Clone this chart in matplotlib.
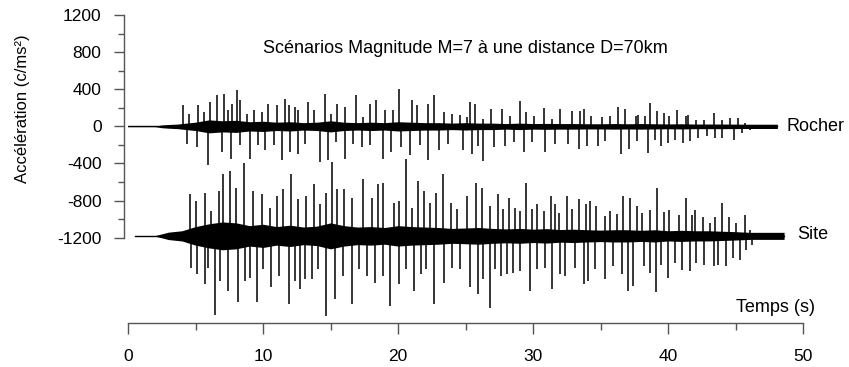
#!/usr/bin/env python3
# Accelerograms "Rocher" / "Site" for the M=7, D=70km scenario.
# Peaks, drawn as spikes over a dense core band.
import numpy as np
import matplotlib
matplotlib.use("Agg")
import matplotlib.pyplot as plt
from matplotlib.ticker import MultipleLocator, FixedLocator

plt.rcParams["font.family"] = ["Liberation Sans", "DejaVu Sans"]
plt.rcParams["axes.unicode_minus"] = False

# vertical offsets of the two traces (c/ms2)
rocher_offset = 0
site_offset = -1180

# --- Rocher: positive peaks (time s, amplitude)
rocher_up_t = [4.1, 4.5, 5.2, 5.6, 6.07, 6.57, 7.13, 7.4, 7.68, 8.1, 8.3, 8.8, 9.36, 9.9, 10.4,
               11.0, 11.6, 11.9, 12.4, 12.6, 13.3, 13.8, 14.6, 15.0, 15.5, 16.1, 16.9, 17.4,
               17.9, 18.4, 19.0, 19.6, 20.1, 21.0, 21.4, 22.2, 22.7, 23.4, 24.0, 24.6, 25.1,
               25.3, 25.7, 26.3, 26.9, 27.7, 28.3, 29.0, 29.5, 30.1, 30.8, 31.4, 32.0, 32.9,
               33.5, 33.8, 34.3, 35.1, 35.7, 36.3, 36.8, 37.6, 37.8, 38.3, 38.7, 39.2, 39.7,
               40.1, 40.7, 41.3, 41.5, 42.1, 42.7, 43.4, 44.0, 44.6, 45.2, 45.7]
rocher_up_a = [226, 130, 226, 150, 262, 334, 345, 180, 244, 388, 280, 137, 172, 154, 244,
               226, 298, 226, 208, 172, 262, 172, 352, 137, 244, 208, 334, 101,
               244, 280, 172, 172, 406, 280, 226, 244, 334, 154, 137, 119, 101,
               258, 240, 79, 187, 187, 115, 276, 151, 115, 194, 79, 187, 169,
               169, 187, 115, 97, 115, 205, 187, 115, 126, 108, 251, 162, 144,
               108, 180, 108, 126, 72, 72, 144, 72, 90, 90, 36]
# --- Rocher: negative peaks
rocher_dn_t = [4.35, 5.09, 5.95, 6.94, 7.63, 8.3, 9.04, 9.65, 10.15, 10.8, 11.4, 12.0, 12.6,
               13.1, 14.2, 14.8, 15.4, 16.1, 16.7, 17.3, 17.9, 18.9, 19.5, 20.2, 20.9, 21.6,
               22.2, 23.0, 23.7, 24.8, 25.5, 25.9, 26.3, 27.1, 27.9, 28.6, 29.3, 29.9, 30.9,
               31.6, 32.6, 33.4, 34.0, 34.8, 35.3, 36.5, 37.1, 37.7, 38.5, 39.0, 39.5, 40.0,
               40.5, 41.1, 41.6, 42.2, 42.9, 43.5, 44.0, 44.9, 45.5, 46.1]
rocher_dn_a = [-187, -223, -420, -277, -348, -205, -348, -205, -259, -205, -366, -277, -294,
               -187, -384, -366, -169, -348, -187, -223, -205, -348, -277, -223, -312, -205,
               -366, -259, -187, -259, -298, -208, -370, -226, -208, -172, -280, -172, -280,
               -190, -190, -244, -208, -208, -154, -298, -244, -154, -287, -144, -215, -180,
               -144, -180, -162, -126, -108, -126, -126, -144, -72, -36]

# --- Site: positive peaks
site_up_t = [4.6, 5.0, 5.7, 6.15, 6.77, 7.06, 7.56, 8.0, 8.6, 9.23, 9.9, 10.5, 11.06, 11.5,
             12.05, 12.6, 13.2, 13.8, 14.2, 14.7, 15.1, 15.5, 16.0, 16.6, 17.4, 18.1, 18.5,
             18.9, 19.7, 20.1, 20.6, 21.0, 21.5, 21.9, 22.4, 22.8, 23.3, 23.9, 24.4, 25.1,
             25.8, 26.2, 26.8, 27.4, 27.8, 28.2, 28.7, 29.0, 29.5, 29.9, 30.3, 30.8, 31.3,
             31.6, 31.9, 32.5, 32.9, 33.4, 33.9, 34.2, 34.7, 35.3, 35.7, 36.2, 36.7, 37.2,
             37.7, 38.1, 38.7, 39.2, 39.7, 40.1, 40.8, 41.3, 41.8, 42.0, 42.6, 43.1, 43.5,
             44.0, 44.5, 45.0, 45.7, 46.1]
site_up_a = [449, 377, 467, 269, 485, 664, 700, 521, 790, 485, 449, 305, 431, 503,
             664, 395, 431, 556, 341, 467, 800, 503, 510, 413, 610, 413, 556,
             574, 359, 377, 830, 305, 592, 485, 359, 467, 664, 359, 287, 431,
             574, 521, 323, 449, 287, 413, 305, 269, 574, 287, 341, 269, 431,
             341, 251, 431, 287, 395, 341, 377, 323, 215, 269, 233, 431, 413,
             323, 244, 280, 513, 262, 280, 226, 406, 226, 280, 208, 136, 208,
             352, 208, 136, 226, 65]
# --- Site: negative peaks
site_dn_t = [4.7, 5.1, 5.7, 5.95, 6.44, 6.8, 7.43, 8.17, 8.67, 9.04, 9.58, 10.0, 10.6, 11.2,
             11.9, 12.4, 12.74, 13.1, 13.6, 14.1, 14.7, 15.3, 15.9, 16.6, 17.1, 17.7, 18.3,
             18.9, 19.4, 20.1, 20.6, 21.2, 21.7, 22.1, 22.7, 23.4, 24.0, 24.6, 25.3, 25.9,
             26.3, 26.8, 27.2, 27.6, 28.1, 28.5, 29.0, 29.8, 30.3, 30.9, 31.4, 32.0, 32.4,
             33.1, 33.8, 34.1, 34.6, 35.3, 35.9, 36.6, 37.0, 37.4, 38.2, 38.7, 39.1, 39.5,
             40.0, 40.5, 41.0, 41.6, 42.1, 42.7, 43.4, 43.7, 44.3, 44.8, 45.3, 45.8, 46.2]
site_dn_a = [-341, -413, -521, -341, -850, -485, -592, -718, -485, -449, -718, -359, -556, -431,
             -736, -485, -574, -467, -467, -359, -862, -682, -431, -736, -359, -431, -503,
             -431, -754, -520, -359, -592, -413, -359, -736, -503, -341, -359, -556, -628,
             -467, -772, -359, -431, -413, -395, -377, -592, -359, -341, -574, -413, -431,
             -341, -520, -485, -359, -467, -323, -413, -592, -539, -330, -402, -600, -312,
             -456, -294, -366, -384, -294, -312, -330, -312, -330, -240, -258, -151, -97]

# --- dense core band: half width once per second, plus the flat tail
rocher_core_t = [0, 1, 2, 2.5, 3, 3.7, 4, 5, 6, 7, 8, 9, 10, 11, 12, 13, 14, 15, 16, 17, 18,
                 19, 20, 21, 22, 23, 24, 25, 26, 27, 28, 29, 30, 31, 32, 33, 34, 35, 36, 37,
                 38, 39, 40, 41, 42, 43, 44, 45, 45.8, 48.1]
rocher_core_a = [3, 3, 3, 15, 20, 25, 30, 45, 70, 60, 65, 50, 55, 45, 50, 40, 45, 60, 45,
                 40, 45, 40, 50, 45, 40, 40, 35, 40, 35, 35, 30, 35, 30, 32, 30, 30, 28, 28,
                 30, 28, 30, 28, 26, 28, 25, 25, 25, 24, 23, 23]
site_core_t = [0.5, 1, 2, 2.6, 3, 4, 5, 6, 7, 8, 9, 10, 11, 12, 13, 14, 15, 16, 17, 18, 19,
               20, 21, 22, 23, 24, 25, 26, 27, 28, 29, 30, 31, 32, 33, 34, 35, 36, 37, 38,
               39, 40, 41, 42, 43, 44, 45, 46.1, 48.6]
site_core_a = [3, 3, 3, 25, 40, 55, 100, 130, 150, 140, 110, 125, 100, 115, 95, 105, 140,
               110, 95, 100, 90, 110, 100, 95, 90, 80, 85, 90, 80, 75, 80, 72, 78, 68, 72,
               66, 62, 66, 66, 60, 66, 55, 60, 55, 55, 50, 45, 38, 38]

title = "Scénarios Magnitude M=7 à une distance D=70km"
xlabel = "Temps (s)"
ylabel = "Accélération (c/ms²)"


def draw_trace(ax, offset, up_t, up_a, dn_t, dn_a, core_t, core_a):
    ct = np.asarray(core_t, dtype=float)
    ca = np.asarray(core_a, dtype=float)
    ax.plot([ct[0], ct[-1]], [offset, offset], color="black", lw=1.0)
    ax.fill_between(ct, offset - ca, offset + ca, color="black", lw=0)
    ax.vlines(up_t, offset, offset + np.asarray(up_a), color="black", lw=1.1)
    ax.vlines(dn_t, offset, offset + np.asarray(dn_a), color="black", lw=1.1)


fig = plt.figure(figsize=(8.49, 3.67), dpi=100)
ax = fig.add_axes([128 / 849, 44 / 367, 675 / 849, 308 / 367])

draw_trace(ax, rocher_offset, rocher_up_t, rocher_up_a, rocher_dn_t, rocher_dn_a,
           rocher_core_t, rocher_core_a)
draw_trace(ax, site_offset, site_up_t, site_up_a, site_dn_t, site_dn_a,
           site_core_t, site_core_a)

ax.set_xlim(0, 50)
ax.set_ylim(-2119, 1200)

for s in ("top", "right"):
    ax.spines[s].set_visible(False)
ax.spines["left"].set_bounds(-1200, 1200)
ax.spines["left"].set_position(("outward", 3))
ax.spines["bottom"].set_bounds(0, 50)
for s in ("left", "bottom"):
    ax.spines[s].set_color("#555555")
    ax.spines[s].set_linewidth(1.0)

ax.set_yticks(np.arange(-1200, 1201, 400))
ax.yaxis.set_minor_locator(FixedLocator(np.arange(-1000, 1001, 400)))
ax.set_xticks(np.arange(0, 51, 10))
ax.xaxis.set_minor_locator(MultipleLocator(5))
ax.tick_params(axis="y", which="major", length=7, width=1, color="#555555", pad=9, labelsize=12.5)
ax.tick_params(axis="y", which="minor", length=4, width=1, color="#555555")
ax.tick_params(axis="x", which="major", length=8, width=1, color="#555555", pad=11, labelsize=12.5)
ax.tick_params(axis="x", which="minor", length=5, width=1, color="#555555")

ax.text(25.0, 840, title, ha="center", va="center", fontsize=13)
ax.text(48.8, rocher_offset, "Rocher", ha="left", va="center", fontsize=13, clip_on=False)
ax.text(49.6, site_offset + 20, "Site", ha="left", va="center", fontsize=13, clip_on=False)
ax.text(48.0, -1950, xlabel, ha="center", va="center", fontsize=13)
fig.text(23 / 849, 1 - 109 / 367, ylabel, rotation=90, ha="center", va="center", fontsize=12)

fig.savefig("out.png", dpi=100)
